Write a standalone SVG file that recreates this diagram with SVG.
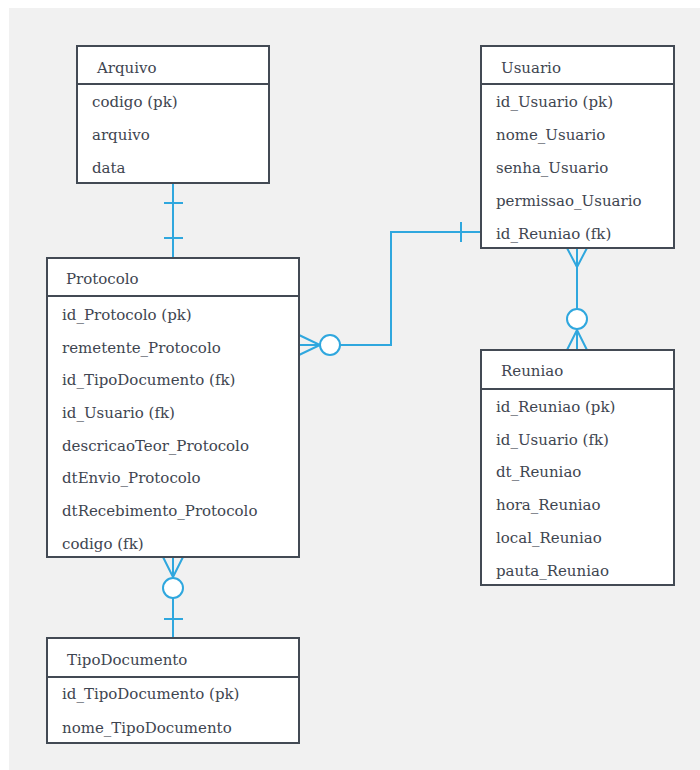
<svg xmlns="http://www.w3.org/2000/svg" width="700" height="770" viewBox="0 0 700 770">
<style>
.box{fill:#ffffff;stroke:#434a54;stroke-width:2}
.div{stroke:#434a54;stroke-width:2}
text{font-family:"DejaVu Serif","Liberation Serif",serif;font-size:15px;fill:#3e4550}
.c{fill:none;stroke:#2fa7de;stroke-width:2}
.o{fill:#ffffff;stroke:#2fa7de;stroke-width:2}
</style>
<rect x="9" y="8" width="691" height="762" fill="#f1f1f1"/>
<g id="connectors">
  <!-- Arquivo - Protocolo -->
  <path class="c" d="M173 183V258M164 203H183M164 238H183"/>
  <!-- Protocolo - Usuario -->
  <path class="c" d="M340 345H391V232H481M461 222V242M299 335L320 345L299 355M299 345H320"/>
  <circle class="o" cx="330" cy="345" r="10"/>
  <!-- Usuario - Reuniao -->
  <path class="c" d="M577 248V309M567 248L577 267L587 248M577 329V350M567 350L577 330L587 350"/>
  <circle class="o" cx="577" cy="319" r="10"/>
  <!-- Protocolo - TipoDocumento -->
  <path class="c" d="M173 557V578M163 557L173 577L183 557M173 598V638M164 619H183"/>
  <circle class="o" cx="173" cy="588" r="10"/>
</g>
<g id="Arquivo">
  <rect class="box" x="77" y="46" width="192" height="137"/>
  <line class="div" x1="77" y1="84" x2="269" y2="84"/>
  <text x="97" y="73">Arquivo</text>
  <text x="92" y="107">codigo (pk)</text>
  <text x="92" y="140">arquivo</text>
  <text x="92" y="173">data</text>
</g>
<g id="Usuario">
  <rect class="box" x="481" y="46" width="193" height="202"/>
  <line class="div" x1="481" y1="84" x2="674" y2="84"/>
  <text x="501" y="73">Usuario</text>
  <text x="496" y="107">id_Usuario (pk)</text>
  <text x="496" y="140">nome_Usuario</text>
  <text x="496" y="173">senha_Usuario</text>
  <text x="496" y="206">permissao_Usuario</text>
  <text x="496" y="239">id_Reuniao (fk)</text>
</g>
<g id="Protocolo">
  <rect class="box" x="47" y="258" width="252" height="299"/>
  <line class="div" x1="47" y1="296" x2="299" y2="296"/>
  <text x="66" y="284">Protocolo</text>
  <text x="62" y="320">id_Protocolo (pk)</text>
  <text x="62" y="353">remetente_Protocolo</text>
  <text x="62" y="385">id_TipoDocumento (fk)</text>
  <text x="62" y="418">id_Usuario (fk)</text>
  <text x="62" y="451">descricaoTeor_Protocolo</text>
  <text x="62" y="483">dtEnvio_Protocolo</text>
  <text x="62" y="516">dtRecebimento_Protocolo</text>
  <text x="62" y="549">codigo (fk)</text>
</g>
<g id="Reuniao">
  <rect class="box" x="481" y="350" width="193" height="235"/>
  <line class="div" x1="481" y1="389" x2="674" y2="389"/>
  <text x="501" y="376">Reuniao</text>
  <text x="496" y="412">id_Reuniao (pk)</text>
  <text x="496" y="445">id_Usuario (fk)</text>
  <text x="496" y="477">dt_Reuniao</text>
  <text x="496" y="510">hora_Reuniao</text>
  <text x="496" y="543">local_Reuniao</text>
  <text x="496" y="576">pauta_Reuniao</text>
</g>
<g id="TipoDocumento">
  <rect class="box" x="47" y="638" width="252" height="105"/>
  <line class="div" x1="47" y1="677" x2="299" y2="677"/>
  <text x="67" y="665">TipoDocumento</text>
  <text x="62" y="699">id_TipoDocumento (pk)</text>
  <text x="62" y="733">nome_TipoDocumento</text>
</g>
</svg>
